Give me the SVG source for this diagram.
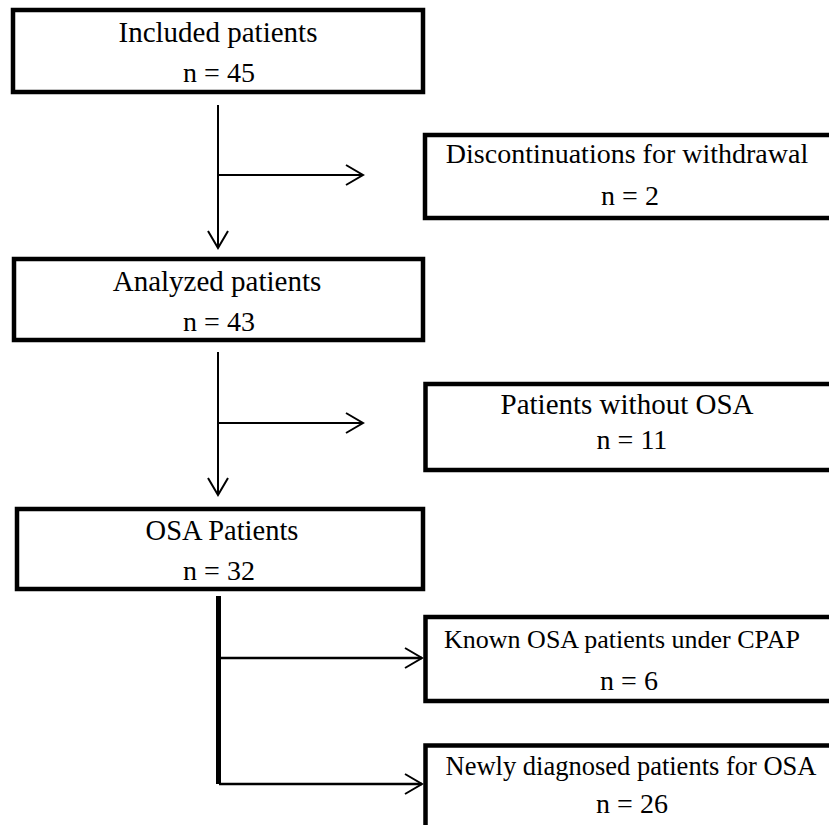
<svg xmlns="http://www.w3.org/2000/svg" width="829" height="825" viewBox="0 0 829 825">
<style>
.box{fill:#fff;stroke:#000;stroke-width:4.5}
.t{font-family:"Liberation Serif","Times New Roman",serif;fill:#000;text-anchor:middle}
.ln{stroke:#000;stroke-width:2;fill:none}
.lnb{stroke:#000;stroke-width:2.5;fill:none}
</style>
<defs>
<marker id="arr" viewBox="0 0 20 22" refX="18" refY="11" markerWidth="20" markerHeight="22" markerUnits="userSpaceOnUse" orient="auto">
<path d="M1,1 L18,11 L1,21" fill="none" stroke="#000" stroke-width="2"/>
</marker>
</defs>
<rect width="829" height="825" fill="#fff"/>
<g id="connectors">
<line class="ln" x1="218" y1="105" x2="218" y2="248" marker-end="url(#arr)"/>
<line class="ln" x1="218" y1="175" x2="363" y2="175" marker-end="url(#arr)"/>
<line class="ln" x1="218" y1="352" x2="218" y2="495" marker-end="url(#arr)"/>
<line class="ln" x1="218" y1="423" x2="363" y2="423" marker-end="url(#arr)"/>
<line x1="218.5" y1="596" x2="218.5" y2="784" stroke="#000" stroke-width="5"/>
<line class="lnb" x1="221" y1="658" x2="422" y2="658" marker-end="url(#arr)"/>
<line class="lnb" x1="219" y1="784" x2="422" y2="784" marker-end="url(#arr)"/>
</g>
<g id="included">
<rect class="box" x="13" y="10" width="410" height="82"/>
<text class="t" x="218" y="42" font-size="29">Included patients</text>
<text class="t" x="219" y="82" font-size="28">n = 45</text>
</g>
<g id="discontinuations">
<rect class="box" x="425" y="135" width="420" height="83"/>
<text class="t" x="627" y="163" font-size="28">Discontinuations for withdrawal</text>
<text class="t" x="630" y="205" font-size="28">n = 2</text>
</g>
<g id="analyzed">
<rect class="box" x="14" y="259" width="409" height="81"/>
<text class="t" x="217" y="291" font-size="29">Analyzed patients</text>
<text class="t" x="219" y="331" font-size="28">n = 43</text>
</g>
<g id="without">
<rect class="box" x="425.5" y="384" width="420" height="86"/>
<text class="t" x="627" y="414" font-size="29">Patients without OSA</text>
<text class="t" x="632" y="449" font-size="28">n = 11</text>
</g>
<g id="osa">
<rect class="box" x="17" y="509" width="406" height="80"/>
<text class="t" x="222" y="540" font-size="28.5">OSA Patients</text>
<text class="t" x="219" y="580" font-size="28">n = 32</text>
</g>
<g id="known">
<rect class="box" x="425.5" y="617" width="420" height="84"/>
<text class="t" x="622" y="648" font-size="26">Known OSA patients under CPAP</text>
<text class="t" x="629" y="690" font-size="28">n = 6</text>
</g>
<g id="newly">
<rect class="box" x="425.5" y="745.5" width="420" height="100"/>
<text class="t" x="631" y="775" font-size="26.5">Newly diagnosed patients for OSA</text>
<text class="t" x="632" y="813" font-size="28">n = 26</text>
</g>
</svg>
